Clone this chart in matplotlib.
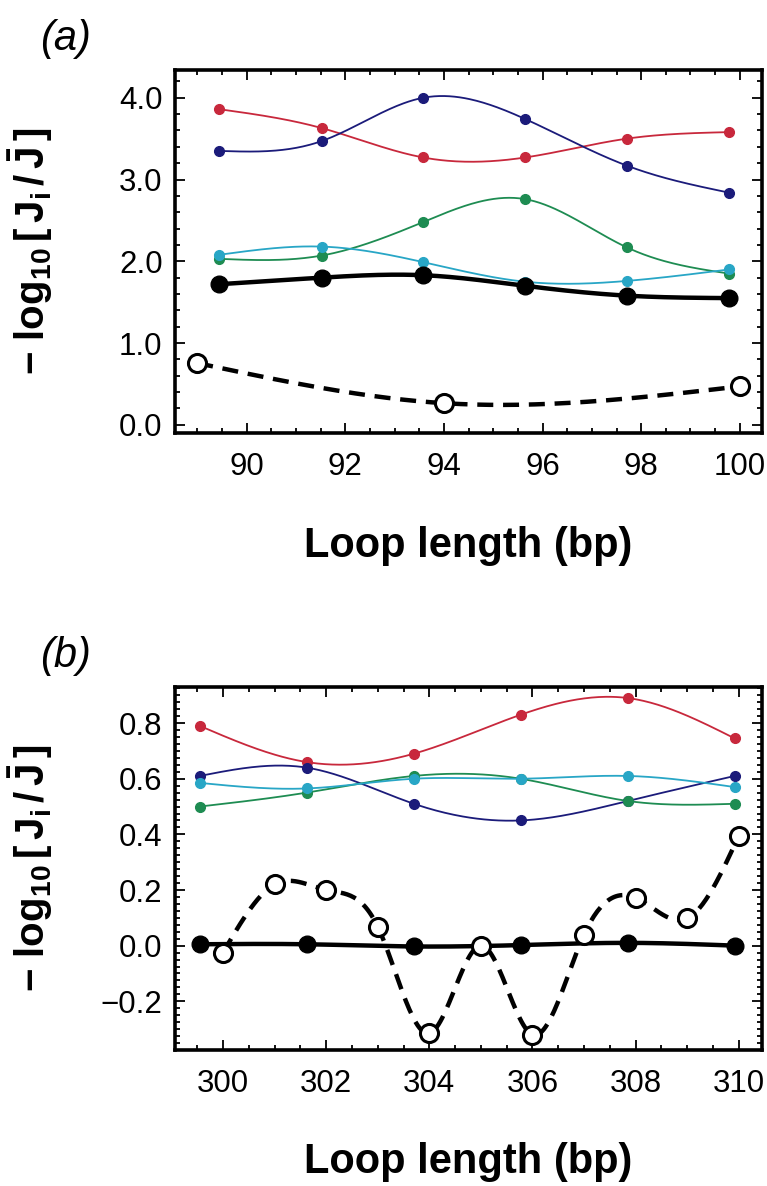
import numpy as np
import matplotlib
matplotlib.use("Agg")
import matplotlib.pyplot as plt
from matplotlib.ticker import MultipleLocator, FuncFormatter

plt.rcParams["font.family"] = ["Liberation Sans", "DejaVu Sans"]
plt.rcParams["mathtext.fontset"] = "custom"
plt.rcParams["mathtext.rm"] = "Liberation Sans"
plt.rcParams["mathtext.bf"] = "Liberation Sans:bold"
plt.rcParams["mathtext.it"] = "Liberation Sans:italic"

# (a) short loops
loop_a = [89.45, 91.52, 93.58, 95.65, 97.71, 99.78]
red_a = [3.86, 3.63, 3.27, 3.27, 3.50, 3.58]
blue_a = [3.35, 3.47, 4.00, 3.74, 3.17, 2.84]
green_a = [2.03, 2.07, 2.48, 2.76, 2.17, 1.85]
cyan_a = [2.08, 2.18, 1.99, 1.75, 1.76, 1.90]
black_a = [1.72, 1.80, 1.83, 1.70, 1.58, 1.55]
open_x_a = [89, 94, 100]
open_a = [0.755, 0.265, 0.47]

# (b) long loops
loop_b = [299.55, 301.62, 303.70, 305.77, 307.85, 309.92]
red_b = [0.79, 0.66, 0.69, 0.83, 0.89, 0.745]
blue_b = [0.61, 0.64, 0.51, 0.45, 0.52, 0.61]
green_b = [0.50, 0.55, 0.61, 0.60, 0.52, 0.51]
cyan_b = [0.585, 0.565, 0.60, 0.60, 0.61, 0.57]
black_b = [0.005, 0.005, -0.003, 0.002, 0.01, 0.0]
open_x_b = [300, 301, 302, 303, 304, 305, 306, 307, 308, 309, 310]
open_b = [-0.025, 0.22, 0.20, 0.068, -0.315, 0.0, -0.32, 0.04, 0.172, 0.098, 0.395]

colors = {"red": "#c8283c", "blue": "#1b1b7a", "green": "#1e8c52", "cyan": "#28a6c6"}


def spline(x, y, n=300):
    # natural cubic spline through the points
    x = np.asarray(x, float)
    y = np.asarray(y, float)
    k = len(x)
    h = np.diff(x)
    A = np.zeros((k, k))
    r = np.zeros(k)
    A[0, 0] = A[-1, -1] = 1
    for i in range(1, k - 1):
        A[i, i - 1] = h[i - 1]
        A[i, i] = 2 * (h[i - 1] + h[i])
        A[i, i + 1] = h[i]
        r[i] = 6 * ((y[i + 1] - y[i]) / h[i] - (y[i] - y[i - 1]) / h[i - 1])
    M = np.linalg.solve(A, r)
    xs = np.linspace(x[0], x[-1], n)
    j = np.clip(np.searchsorted(x, xs) - 1, 0, k - 2)
    t1 = x[j + 1] - xs
    t0 = xs - x[j]
    ys = (M[j] * t1**3 + M[j + 1] * t0**3) / (6 * h[j]) \
        + (y[j] / h[j] - M[j] * h[j] / 6) * t1 \
        + (y[j + 1] / h[j] - M[j + 1] * h[j] / 6) * t0
    return xs, ys


def minus_fmt(v, pos):
    return f"{v:.1f}".replace("-", "\u2212")


def draw(ax, xs, series, black, ox, oy):
    for name, vals in series:
        sx, sy = spline(xs, vals)
        ax.plot(sx, sy, color=colors[name], lw=1.3, zorder=3)
        ax.plot(xs, vals, "o", color=colors[name], ms=7, zorder=4)
    sx, sy = spline(xs, black)
    ax.plot(sx, sy, color="black", lw=3.2, zorder=5)
    ax.plot(xs, black, "o", color="black", ms=12, zorder=6)
    sx, sy = spline(ox, oy)
    ax.plot(sx, sy, color="black", lw=3.2, ls=(0, (3.6, 2.2)), zorder=5)
    ax.plot(ox, oy, "o", mfc="white", mec="black", mew=2.2, ms=13, zorder=7)


fig = plt.figure(figsize=(7.67, 11.86), dpi=100)
ax1 = fig.add_axes([0.2282, 0.6349, 0.7653, 0.3061])
ax2 = fig.add_axes([0.2282, 0.1147, 0.7653, 0.3061])

draw(ax1, loop_a, [("red", red_a), ("blue", blue_a), ("green", green_a), ("cyan", cyan_a)],
     black_a, open_x_a, open_a)
draw(ax2, loop_b, [("red", red_b), ("blue", blue_b), ("green", green_b), ("cyan", cyan_b)],
     black_b, open_x_b, open_b)

ax1.set_xlim(88.55, 100.45)
ax1.set_ylim(-0.1, 4.34)
ax1.xaxis.set_major_locator(MultipleLocator(2))
ax1.xaxis.set_minor_locator(MultipleLocator(0.5))
ax1.yaxis.set_major_locator(MultipleLocator(1.0))
ax1.yaxis.set_minor_locator(MultipleLocator(0.2))

ax2.set_xlim(299.07, 310.45)
ax2.set_ylim(-0.375, 0.93)
ax2.xaxis.set_major_locator(MultipleLocator(2))
ax2.xaxis.set_minor_locator(MultipleLocator(0.5))
ax2.yaxis.set_major_locator(MultipleLocator(0.2))
ax2.yaxis.set_minor_locator(MultipleLocator(0.025))

ylab = r"$\mathbf{-\ log_{10}\,[\,J_{i}\,/\,\bar{J}\,]}$"
for ax, tag in [(ax1, "(a)"), (ax2, "(b)")]:
    for s in ax.spines.values():
        s.set_linewidth(2.6)
    ax.tick_params(which="both", direction="in", top=True, right=True, width=1.3)
    ax.tick_params(which="major", length=7, labelsize=22.5)
    ax.tick_params(which="minor", length=3.5)
    ax.tick_params(axis="x", which="major", pad=14)
    ax.tick_params(axis="y", which="major", pad=9)
    ax.yaxis.set_major_formatter(FuncFormatter(minus_fmt))
    ax.xaxis.set_major_formatter(FuncFormatter(lambda v, p: f"{v:.0f}"))
    ax.set_xlabel("Loop length (bp)", fontsize=30, fontweight="bold", labelpad=31)
    ax.set_ylabel(ylab, fontsize=29)
    ax.yaxis.set_label_coords(-0.205, 0.5)
    ax.text(-0.23, 1.03, tag, transform=ax.transAxes, fontsize=30, style="italic",
            ha="left", va="bottom")

fig.savefig("out.png", dpi=100)
